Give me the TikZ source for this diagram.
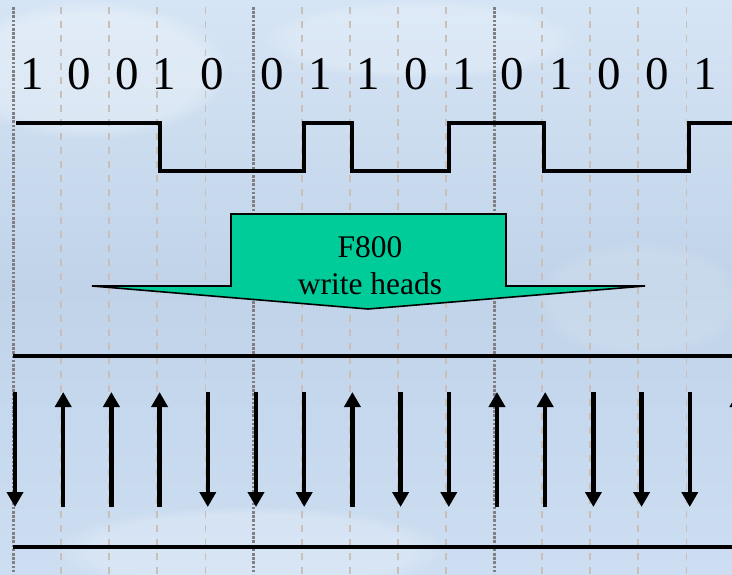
\documentclass[tikz,border=0pt]{standalone}
\usepackage{fontspec}
\setmainfont{Liberation Serif}
\usetikzlibrary{arrows.meta,fadings}

\definecolor{skytop}{RGB}{214,229,245}
\definecolor{skymid}{RGB}{192,211,233}
\definecolor{skylow}{RGB}{205,222,242}
\definecolor{gridtan}{RGB}{200,192,184}
\definecolor{griddot}{RGB}{128,128,130}
\definecolor{headgreen}{RGB}{0,204,153}

\tikzset{
  bitcell/.style={dash pattern=on 7pt off 7pt, line width=1.8pt, color=gridtan},
  bytemark/.style={dash pattern=on 2.6pt off 1.6pt, line width=3pt, color=griddot},
  digit/.style={anchor=base, inner sep=0pt, font=\fontsize{47}{50}\selectfont},
  signal/.style={line width=4pt, line join=miter},
  track/.style={line width=3.6pt},
  flux/.style={line width=4.5pt, -{Triangle[width=16pt,length=15pt]}},
  headshape/.style={fill=headgreen, draw=black, line width=1.6pt, line join=miter},
  headlabel/.style={align=center, inner sep=0pt, font=\fontsize{31.5}{37}\selectfont}
}

\begin{document}
\begin{tikzpicture}[x=1pt,y=-1pt]
  % sky background
  \useasboundingbox (0,0) rectangle (732,574);
  \shade[top color=skytop, bottom color=skylow, middle color=skymid] (0,0) rectangle (732,574);
  \fill[white, opacity=0.3, path fading=circle with fuzzy edge 20 percent] (90,70) ellipse (140 and 70);
  \fill[white, opacity=0.2, path fading=circle with fuzzy edge 20 percent] (420,40) ellipse (160 and 40);
  \fill[white, opacity=0.22, path fading=circle with fuzzy edge 20 percent] (250,550) ellipse (200 and 45);
  \fill[white, opacity=0.12, path fading=circle with fuzzy edge 20 percent] (640,300) ellipse (110 and 60);

  % bit cell boundaries, every fifth one marked
  \foreach \k in {0,...,15} {
    \pgfmathsetmacro{\gx}{13+48.1*\k}
    \pgfmathtruncatemacro{\kk}{mod(\k,5)}
    \ifnum\kk=0
      \draw[bytemark] (\gx,7) -- (\gx,574);
    \else
      \draw[bitcell] (\gx,7) -- (\gx,574);
    \fi
  }

  % data bits
  \foreach \b/\x [count=\i] in {1/32,0/79,0/127,1/164,0/212,0/272,1/320,1/368,0/416,1/464,0/512,1/561,0/609,0/657,1/705}
    \node[digit] (bit\i) at (\x,89) {\b};

  % write current waveform
  \draw[signal] (16,123) -- (160,123) -- (160,171) -- (304,171) -- (304,123)
    -- (352,123) -- (352,171) -- (449,171) -- (449,123) -- (544,123) -- (544,171)
    -- (689,171) -- (689,123) -- (732,123);

  % write head arrow
  \draw[headshape] (92,286) -- (231,286) -- (231,214) -- (506,214) -- (506,286)
    -- (645,286) -- (368,309) -- cycle;
  \node[headlabel] (heads) at (370,266) {F800\\write heads};

  % medium track edges
  \coordinate (trackTL) at (13,356);
  \coordinate (trackTR) at (732,356);
  \coordinate (trackBL) at (13,547);
  \coordinate (trackBR) at (732,547);
  \draw[track] (trackTL) -- (trackTR);
  \draw[track] (trackBL) -- (trackBR);

  % magnetisation directions
  \foreach \d [count=\i from 0] in {D,U,U,U,D,D,D,U,D,D,U,U,D,D,D,U} {
    \pgfmathsetmacro{\ax}{15+48.2*\i}
    \coordinate (mt\i) at (\ax,392);
    \coordinate (mb\i) at (\ax,507);
    \if\d D
      \draw[flux] (mt\i) -- (mb\i);
    \else
      \draw[flux] (mb\i) -- (mt\i);
    \fi
  }
\end{tikzpicture}
\end{document}
